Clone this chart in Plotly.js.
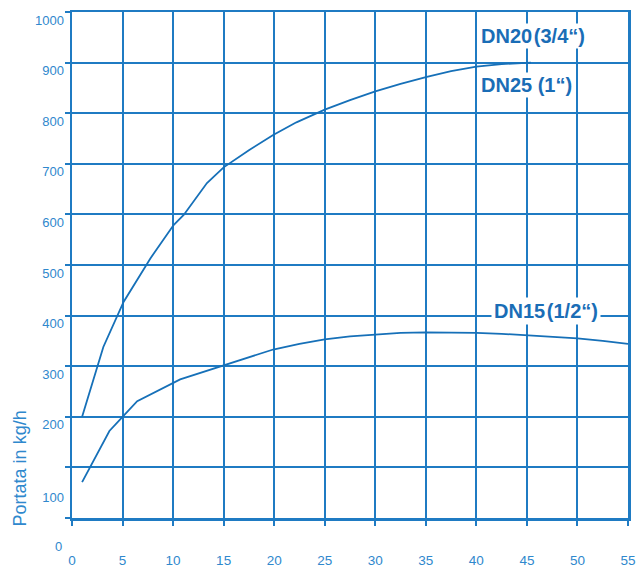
<!DOCTYPE html>
<html>
<head>
<meta charset="utf-8">
<script src="https://cdn.plot.ly/plotly-3.0.1.min.js"></script>
<style>html,body{margin:0;padding:0;background:#fff;}#chart{width:638px;height:569px;}</style>
</head>
<body>
<div id="chart"></div>
<script>
// Upper curve: DN20 (3/4") / DN25 (1")
const dn20x = [1, 3.1, 5.1, 7.75, 10.05, 11.05, 13.35, 15, 17.5, 19.9, 22.2, 25, 27.5, 30, 32.5, 35.1, 37.5, 40, 42.5, 45.4];
const dn20y = [200, 338, 427, 513, 579, 599, 662, 693, 727, 757, 782, 807, 826, 843, 858, 872, 883, 892, 897, 900];
// Lower curve: DN15 (1/2")
const dn15x = [1, 3.7, 5, 6.45, 10.7, 15, 17.5, 19.9, 22.5, 25, 27.5, 30, 32.5, 35, 37.7, 40, 42.5, 45, 47.5, 50, 52.5, 55];
const dn15y = [71, 172, 200, 231, 274, 302, 318, 333, 344, 353, 359, 363, 366, 367, 367, 366, 364, 361, 358, 355, 350, 344];

const xTicks = [0, 5, 10, 15, 20, 25, 30, 35, 40, 45, 50, 55];
const yGrid = [0, 100, 200, 300, 400, 500, 600, 700, 800, 900, 1000];
const yTickLabels = ['0', '100', '200', '300', '400', '500', '600', '700', '800', '900', '1000'];

const seriesNames = ['DN20\u200a(3/4\u201c)', 'DN25 (1\u201c)', 'DN15\u200a(1/2\u201c)'];
const yTitle = 'Portata in kg/h';

const gridC = '#1f7bc3';
const lineC = '#1670b8';
const tickC = '#2f88cd';
const labC = '#1a6db6';
const fnt = 'Liberation Sans, Arial, sans-serif';

// y label values are drawn a little below their gridlines, as in the source
function labelPos(v) {
  if (v === 0) return -56;
  if (v === 100) return 41;
  return v - 16;
}
const y2vals = [], y2text = [];
yGrid.forEach((v, i) => { if (v > 0) { y2vals.push(labelPos(v)); y2text.push(yTickLabels[i]); } });

const traces = [
  {x: dn20x, y: dn20y, mode: 'lines', line: {color: lineC, width: 1.8}, hoverinfo: 'skip', showlegend: false},
  {x: dn15x, y: dn15y, mode: 'lines', line: {color: lineC, width: 1.8}, hoverinfo: 'skip', showlegend: false},
  {x: [0], y: [0], yaxis: 'y2', mode: 'markers', marker: {opacity: 0}, hoverinfo: 'skip', showlegend: false}
];

const labelFont = {family: fnt, size: 20, color: labC, weight: 'bold'};
const annotations = [
  {xref: 'x', yref: 'y', x: 40.3, y: 953, text: '<b>' + seriesNames[0] + '</b>', showarrow: false, xanchor: 'left', yanchor: 'middle', font: labelFont, bgcolor: '#ffffff', borderpad: 1},
  {xref: 'x', yref: 'y', x: 40.3, y: 855, text: '<b>' + seriesNames[1] + '</b>', showarrow: false, xanchor: 'left', yanchor: 'middle', font: labelFont, bgcolor: '#ffffff', borderpad: 1},
  {xref: 'x', yref: 'y', x: 41.4, y: 410, text: '<b>' + seriesNames[2] + '</b>', showarrow: false, xanchor: 'left', yanchor: 'middle', font: labelFont, bgcolor: '#ffffff', borderpad: 2},
  {xref: 'paper', yref: 'paper', x: 0, xshift: -8, y: labelPos(0) / 1000, text: yTickLabels[0], showarrow: false, xanchor: 'right', yanchor: 'middle', font: {family: fnt, size: 13, color: tickC}},
  {xref: 'paper', yref: 'paper', x: 0, xshift: -52, y: 0.098, text: yTitle, textangle: -90, showarrow: false, xanchor: 'center', yanchor: 'middle', font: {family: fnt, size: 18, color: tickC}}
];

const layout = {
  width: 638, height: 569,
  margin: {l: 72, r: 10, t: 12, b: 51, pad: 0},
  paper_bgcolor: '#ffffff', plot_bgcolor: '#ffffff',
  showlegend: false,
  xaxis: {
    range: [0, 55], tickvals: xTicks, ticktext: xTicks.map(String),
    showgrid: true, gridcolor: gridC, gridwidth: 2,
    showline: true, linecolor: gridC, linewidth: 2.5, mirror: true,
    ticks: 'outside', ticklen: 5, tickwidth: 2, tickcolor: gridC,
    zeroline: false, ticklabelstandoff: 23,
    tickfont: {family: fnt, size: 13.5, color: tickC}, fixedrange: true
  },
  yaxis: {
    range: [0, 1000], tickvals: yGrid, showticklabels: false,
    showgrid: true, gridcolor: gridC, gridwidth: 2,
    showline: true, linecolor: gridC, linewidth: 2.5, mirror: true,
    ticks: 'outside', ticklen: 5, tickwidth: 2, tickcolor: gridC,
    zeroline: false, fixedrange: true
  },
  yaxis2: {
    overlaying: 'y', side: 'left', range: [0, 1000],
    tickvals: y2vals, ticktext: y2text, showgrid: false, zeroline: false, showline: false,
    ticks: '', ticklabelstandoff: 7,
    tickfont: {family: fnt, size: 13, color: tickC}, fixedrange: true
  },
  annotations: annotations
};

Plotly.newPlot('chart', traces, layout, {displayModeBar: false, staticPlot: true});
</script>
</body>
</html>
